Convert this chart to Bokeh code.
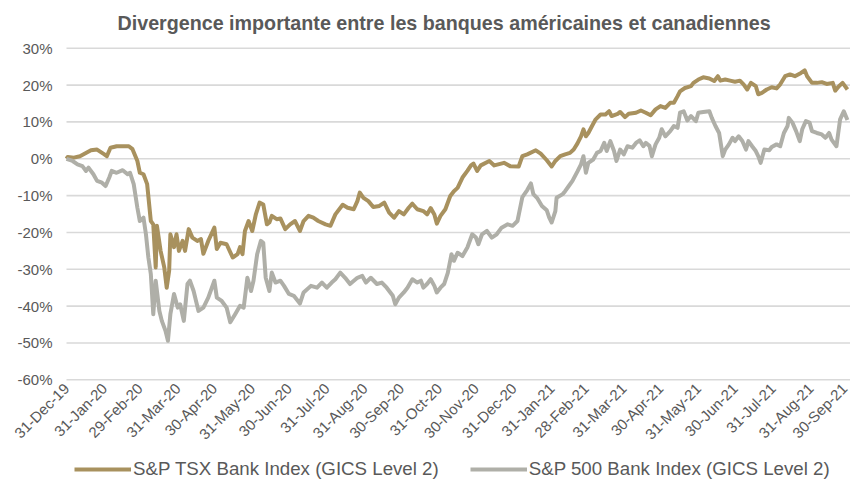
import math
import pandas as pd
from bokeh.plotting import figure
from bokeh.models import (Range1d, FixedTicker, Legend, LegendItem)
from bokeh.embed import file_html
from bokeh.resources import INLINE

title_text = "Divergence importante entre les banques américaines et canadiennes"
start_date = "2019-12-31"

x_tick_labels = ["31-Dec-19", "31-Jan-20", "29-Feb-20", "31-Mar-20", "30-Apr-20", "31-May-20",
                 "30-Jun-20", "31-Jul-20", "31-Aug-20", "30-Sep-20", "31-Oct-20", "30-Nov-20",
                 "31-Dec-20", "31-Jan-21", "28-Feb-21", "31-Mar-21", "30-Apr-21", "31-May-21",
                 "30-Jun-21", "31-Jul-21", "31-Aug-21", "30-Sep-21"]
y_ticks = [-60, -50, -40, -30, -20, -10, 0, 10, 20, 30]

series_names = ["S&P TSX Bank Index (GICS Level 2)", "S&P 500 Bank Index (GICS Level 2)"]

# days since 31-Dec-2019, cumulative return in %
tsx_days = [0, 1, 6, 11, 20, 25, 31, 33, 36, 41,
            51, 54, 58, 60, 63, 66, 69, 71, 73, 74,
            77, 80, 82, 84, 85, 88, 90, 92, 95, 97,
            100, 103, 107, 110, 112, 116, 121, 123, 126, 131,
            136, 140, 142, 144, 146, 149, 152, 155, 158, 161,
            164, 166, 168, 172, 175, 179, 183, 187, 191, 194,
            198, 202, 206, 212, 216, 220, 226, 230, 235, 238,
            240, 243, 247, 251, 256, 260, 264, 268, 272, 276,
            280, 283, 287, 292, 295, 298, 301, 303, 306, 310,
            314, 317, 320, 324, 328, 331, 333, 336, 339, 346,
            350, 358, 363, 370, 373, 377, 384, 388, 393, 397,
            400, 404, 408, 412, 415, 418, 421, 423, 425, 427,
            430, 433, 437, 441, 444, 446, 451, 453, 457, 460,
            466, 470, 474, 478, 482, 486, 490, 494, 497, 500,
            502, 506, 511, 513, 517, 521, 526, 530, 533, 535,
            539, 543, 547, 551, 554, 557, 560, 564, 566, 569,
            573, 577, 581, 584, 588, 592, 596, 601, 604, 606,
            610, 614, 618, 622, 627, 629, 632, 635, 637, 639]
tsx_vals = [0, 0.5, 0.3, 0.7, 2.3, 2.5, 1.2, 0.7, 3.0, 3.4,
            3.4, 2.6, -0.6, -3.8, -4.2, -6.9, -16.9, -17.8, -29.5, -18.2,
            -25, -29.5, -35, -30.4, -20.5, -24, -20.5, -25, -22.3, -25,
            -19.1, -21.4, -22.3, -21.8, -25.8, -22.3, -18.7, -24.5, -22.8, -23.2,
            -26.8, -25.9, -24, -25.9, -19.6, -16.9, -19.6, -15, -11.9, -12.4,
            -17.8, -17.3, -15.5, -16.4, -16.2, -19.1, -17.8, -16.9, -19.6, -16.9,
            -15.5, -16, -16.9, -17.8, -18.2, -15.1, -12.5, -13.3, -13.7, -11.5,
            -9.2, -10.6, -11.5, -13.1, -12.8, -11.9, -14.6, -16, -14.2, -15.1,
            -13.3, -12.2, -13.7, -14.2, -15.1, -13.4, -15.1, -17.6, -15.5, -13.7,
            -10.1, -8.8, -7.9, -5.1, -3.3, -1.8, -1.3, -3.3, -1.8, -0.6,
            -1.8, -1.1, -2, -2.1, 0.7, 1.2, 2.3, 1.4, -0.4, -2.1,
            -0.6, 0.7, 1.2, 1.6, 2.5, 4.1, 6.1, 8, 6.1, 7,
            8.9, 10.7, 12, 12, 12.9, 11.6, 12.2, 12.7, 11.3, 12.2,
            12.5, 13.1, 12.5, 11.8, 13.4, 14.3, 13.8, 15.2, 15.2, 17,
            18.3, 19.2, 19.7, 20.6, 21.5, 22.1, 21.8, 21.1, 22.4, 21.2,
            21.5, 21.2, 20.9, 21.2, 20.2, 18.8, 20.6, 19.7, 17.5, 17.9,
            18.8, 19.4, 19.1, 20.2, 22.4, 22.9, 22.4, 23.3, 24, 22.4,
            20.6, 20.6, 20.8, 20.3, 20.6, 18.5, 19.7, 20.6, 19.7, 18.8]

spx_days = [0, 5, 9, 13, 16, 18, 22, 25, 29, 32,
            35, 37, 41, 46, 50, 52, 55, 58, 60, 63,
            65, 67, 69, 70, 71, 73, 76, 78, 81, 83,
            85, 88, 91, 93, 96, 99, 101, 104, 108, 112,
            116, 121, 123, 127, 131, 134, 138, 142, 145, 148,
            151, 153, 156, 159, 161, 163, 166, 168, 171, 175,
            178, 182, 186, 191, 194, 200, 205, 209, 213, 217,
            220, 224, 228, 232, 238, 242, 245, 249, 254, 258,
            262, 267, 269, 272, 276, 279, 283, 287, 290, 292,
            295, 298, 301, 303, 306, 309, 312, 315, 317, 320,
            324, 328, 332, 335, 337, 340, 344, 348, 352, 356,
            361, 365, 369, 373, 377, 380, 382, 385, 389, 393,
            395, 397, 400, 401, 406, 408, 411, 414, 418, 421,
            423, 425, 427, 431, 434, 437, 440, 442, 445, 448,
            450, 453, 456, 459, 463, 466, 469, 472, 474, 477,
            479, 482, 485, 487, 490, 494, 497, 500, 502, 505,
            508, 511, 515, 517, 521, 526, 528, 531, 534, 537,
            539, 542, 545, 547, 550, 553, 556, 558, 561, 564,
            566, 568, 571, 575, 577, 581, 584, 587, 590, 591,
            594, 597, 600, 602, 605, 608, 610, 614, 618, 621,
            624, 626, 630, 633, 636, 639]
spx_vals = [0, -0.6, -1.5, -2, -3.3, -2.4, -4.2, -6, -6.5, -7.4,
            -5.1, -3.3, -3.8, -3.1, -4.2, -3.8, -6.9, -13.3, -16.9, -16,
            -20.5, -26.8, -31.3, -36.7, -42.2, -33.1, -41.3, -44, -46.7, -49.4,
            -42.2, -36.7, -40.4, -39.5, -44, -34, -33.1, -35.9, -41.3, -40.4,
            -37.7, -33.1, -37.7, -38.6, -40.4, -44.4, -42.2, -39.9, -40.4, -32.3,
            -35.9, -33.1, -25.9, -22.3, -22.8, -32.3, -35.9, -30.9, -33.6, -33.1,
            -34.5, -36.7, -37.2, -39.3, -36.3, -34.5, -35, -33.6, -35, -33.6,
            -32.7, -30.9, -32.3, -34, -32.3, -31.8, -33.6, -32.3, -34, -33.6,
            -35, -37.2, -39.5, -37.7, -36.3, -35, -32.7, -33.6, -33.1, -35,
            -34, -32.7, -34.5, -36.3, -35, -34, -31, -25.9, -27.7, -25.5,
            -26.4, -24.1, -20.5, -21.4, -23.2, -20.5, -19.6, -21.4, -20.5, -18.7,
            -17.8, -18.2, -16.9, -10.4, -8.5, -6.7, -9.6, -10.6, -12.8, -14,
            -16, -17.3, -14.2, -10.6, -9.6, -8.8, -7.4, -6, -3.5, -1.5,
            0.7, -3.8, -1.1, -0.2, 1.6, 2.1, 4.3, 2.1, 4.8, 2.1,
            -0.6, 2.5, 1.2, 3.4, 3, 4.3, 5, 3.4, 4.3, 3.5,
            0.7, 3.9, 5.7, 8, 6.1, 7.5, 8.9, 8.4, 12.5, 12.9,
            10.4, 11.6, 10.2, 12.5, 12.7, 12.9, 11.1, 8.9, 7, 0.7,
            2.5, 3.9, 5.7, 4.8, 6.1, 4.8, 2.5, 4.8, 3.4, 2.1,
            0.7, -1.1, 2.5, 2.3, 3.2, 3.9, 3.4, 7, 8.9, 11.1,
            9.8, 7.5, 4.8, 8, 10.2, 9.8, 7.5, 7, 6.6, 5.7,
            7, 5.2, 3.4, 10.7, 12.9, 10.5]

TEXT = "#595959"
GOLD = "#A8915E"
GREY = "#AFAFA8"
GRID = "#D9D9D9"
FONT = "Liberation Sans"

t0 = pd.Timestamp(start_date)
x_tick_pos = [int((pd.to_datetime(l, format="%d-%b-%y") - t0).days) for l in x_tick_labels]

X_START, X_END = -54.0, 641.5   # room on the left for the y labels inside the frame
Y_START, Y_END = -88.96, 34.0   # room above for the top label, below for x labels and legend

p = figure(width=850, height=486, output_backend="svg", toolbar_location=None,
           x_range=Range1d(X_START, X_END), y_range=Range1d(Y_START, Y_END),
           min_border_left=0, min_border_right=0, min_border_top=33, min_border_bottom=0)

p.title.text = title_text
p.title.align = "left"
p.title.offset = 117
p.title.vertical_align = "bottom"
p.title.standoff = 0
p.title.text_font = FONT
p.title.text_font_size = "19.7px"
p.title.text_font_style = "bold"
p.title.text_color = TEXT

p.outline_line_color = None
p.xgrid.grid_line_color = None
p.ygrid.grid_line_color = None

# horizontal gridlines, spanning the data area only
p.segment(x0=[0] * len(y_ticks), x1=[X_END] * len(y_ticks), y0=y_ticks, y1=y_ticks,
          line_color=GRID, line_width=1.6)

p.yaxis.ticker = FixedTicker(ticks=y_ticks)
p.yaxis.major_label_overrides = {t: f"{t}%" for t in y_ticks}
p.yaxis.fixed_location = 0
p.xaxis.ticker = FixedTicker(ticks=x_tick_pos)
p.xaxis.major_label_overrides = {pos: lab for pos, lab in zip(x_tick_pos, x_tick_labels)}
p.xaxis.major_label_orientation = math.pi / 4
p.xaxis.fixed_location = -60

for ax in (p.xaxis[0], p.yaxis[0]):
    ax.axis_line_color = None
    ax.major_tick_line_color = None
    ax.minor_tick_line_color = None
    ax.major_tick_out = 0
    ax.major_tick_in = 0
    ax.major_label_text_font = FONT
    ax.major_label_text_font_size = "15px"
    ax.major_label_text_color = TEXT
p.yaxis.major_label_standoff = 14
p.xaxis.major_label_standoff = 6

r1 = p.line(tsx_days, tsx_vals, line_color=GOLD, line_width=4, line_join="round")
r2 = p.line(spx_days, spx_vals, line_color=GREY, line_width=4, line_join="round")

legend = Legend(items=[LegendItem(label=series_names[0], renderers=[r1]),
                       LegendItem(label=series_names[1], renderers=[r2])],
                orientation="horizontal", location=(74, 6),
                glyph_width=57, glyph_height=20, label_height=20, label_standoff=2, spacing=31,
                padding=0, margin=0, border_line_color=None, background_fill_alpha=0,
                label_text_font=FONT, label_text_font_size="18.7px", label_text_color=TEXT)
p.add_layout(legend, "center")

open("out.html", "w").write(file_html(p, INLINE))
